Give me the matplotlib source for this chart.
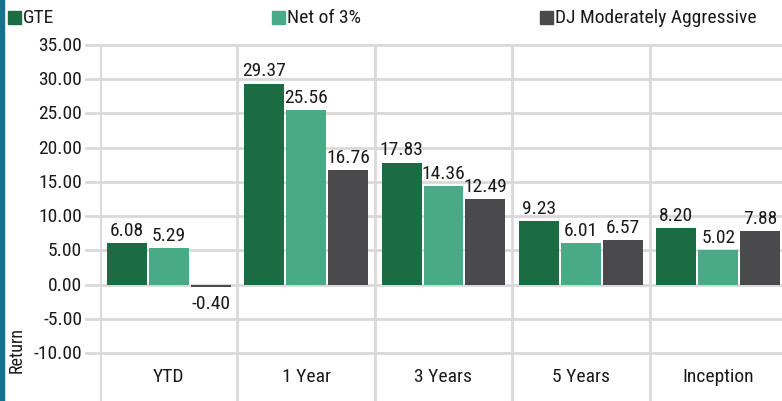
import matplotlib
matplotlib.use("Agg")
import matplotlib.pyplot as plt
import numpy as np
from matplotlib.patches import Rectangle

plt.rcParams['font.family'] = ["Roboto Condensed", 'DejaVu Sans']

categories = ["YTD", "1 Year", "3 Years", "5 Years", "Inception"]
series_names = ["GTE", "Net of 3%", "DJ Moderately Aggressive"]
gte = [6.08, 29.37, 17.83, 9.23, 8.20]
net = [5.29, 25.56, 14.36, 6.01, 5.02]
dj = [-0.40, 16.76, 12.49, 6.57, 7.88]
yticks = [-10, -5, 0, 5, 10, 15, 20, 25, 30, 35]
colors = ["#1b6b43", "#48aa86", "#4a4a4c"]

W, H = 782, 402
fig = plt.figure(figsize=(W/100, H/100), dpi=100)
ax = fig.add_axes([100/W, 0, (787-100)/W, (H-46)/H])
ax.set_xlim(0, 5)
ax.set_ylim(-17, 35)
ax.set_facecolor("white")

grid_c = "#d9d9d9"
for t in yticks:
    ax.plot([-14/137.4, 5], [t, t], color=grid_c, lw=2, clip_on=False, zorder=0)
for i in range(6):
    ax.axvline(i, color=grid_c, lw=2, zorder=0)

x = np.arange(len(categories)) + 0.5
bw = 0.29
step = 0.305
fs = 14
tc = "#1a1a1a"
for k, (vals, c) in enumerate(zip([gte, net, dj], colors)):
    xs = x + (k - 1) * step
    ax.bar(xs, vals, width=bw, color=c, zorder=2)
    for xi, v in zip(xs, vals):
        if v >= 0:
            ax.text(xi, v + 0.6, f"{v:.2f}", ha="center", va="bottom", fontsize=fs, color=tc)
        else:
            ax.text(xi, v - 0.9, f"{v:.2f}", ha="center", va="top", fontsize=fs, color=tc)

for xi, c in zip(x, categories):
    ax.text(xi, -13.4, c, ha="center", va="center", fontsize=fs, color=tc)

for t in yticks:
    ax.text(-18/137.4, t, f"{t:.2f}", ha="right", va="center", fontsize=fs, color=tc, clip_on=False)

for s in ax.spines.values():
    s.set_visible(False)
ax.set_xticks([])
ax.set_yticks([])

fig.text(17/W, 1 - 350/H, "Return", rotation=90, ha="center", va="center", fontsize=13, color=tc)

# left edge accent bar
fig.patches.append(Rectangle((0, 0), 4/W, 1, transform=fig.transFigure, color="#17708d", zorder=5))

# legend
leg_x = [8, 272, 540]
for lx, name, c in zip(leg_x, series_names, colors):
    fig.patches.append(Rectangle((lx/W, 1 - 25/H), 13/W, 13/H, transform=fig.transFigure, color=c))
    fig.text((lx + 15)/W, 1 - 18/H, name, ha="left", va="center", fontsize=fs, color=tc)

fig.savefig("out.png", dpi=100, facecolor="white")
